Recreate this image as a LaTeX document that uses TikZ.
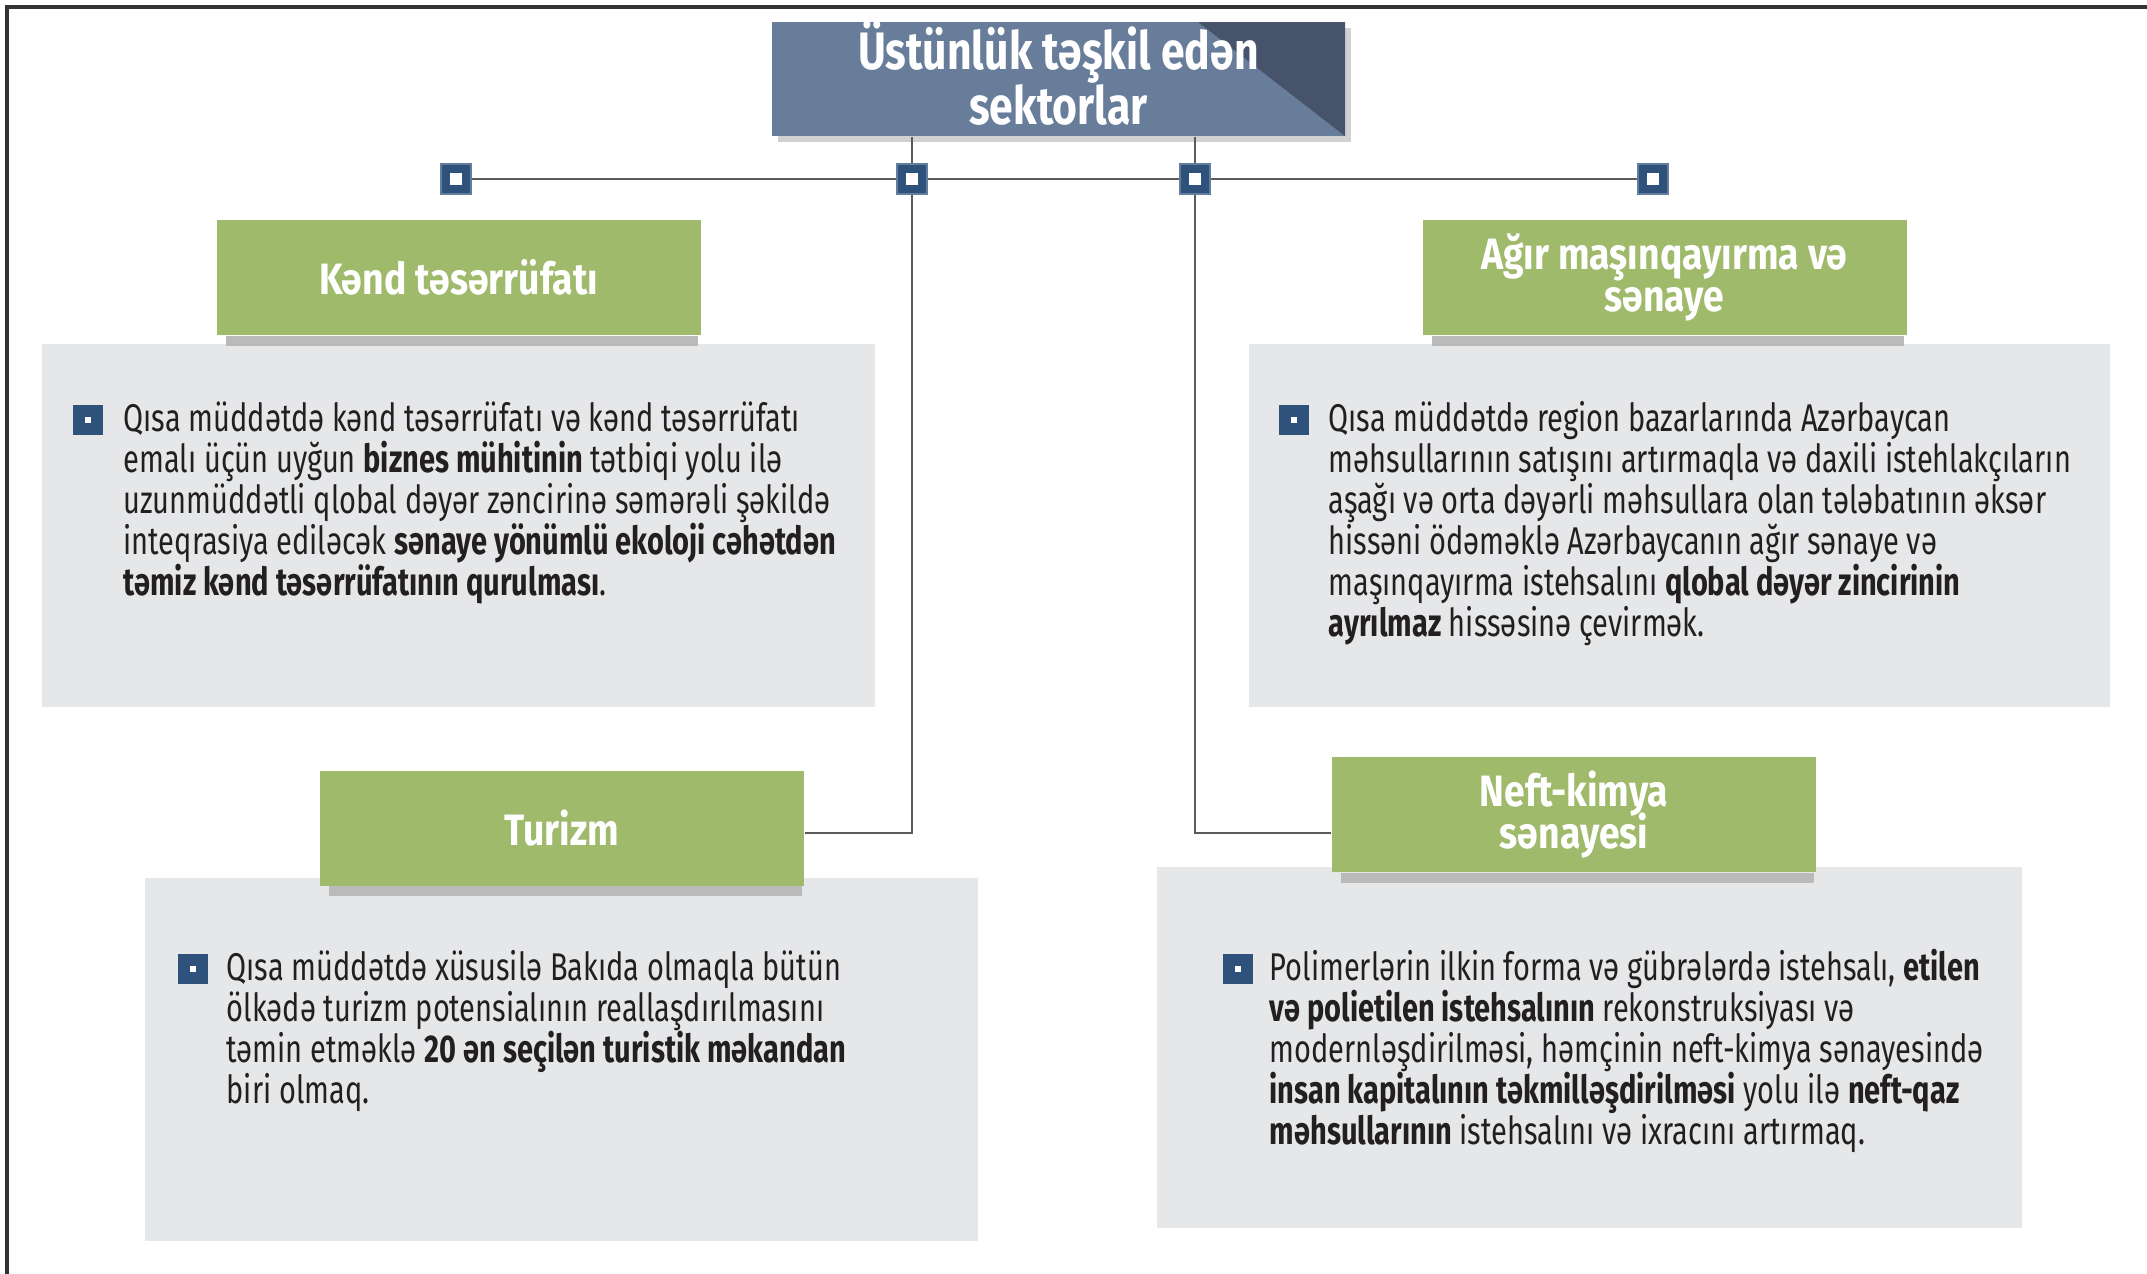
\documentclass[tikz,border=0pt]{standalone}
\usepackage{fontspec}
\setmainfont{Fira Sans}[FakeStretch=0.75]
\newfontfamily\titlefont{Fira Sans}[FakeStretch=0.81]
\newfontfamily\headfont{Fira Sans}[FakeStretch=0.85]
\usetikzlibrary{shadows}

\definecolor{titleblue}{HTML}{687D9A}
\definecolor{titledark}{HTML}{46536A}
\definecolor{leafgreen}{HTML}{A0BA6C}
\definecolor{panelgray}{HTML}{E6E7E8}
\definecolor{markblue}{HTML}{2F527C}
\definecolor{wiregray}{HTML}{5B5B5B}
\definecolor{inkdark}{HTML}{231F20}

\newcommand{\blocktext}[1]{\parbox[t]{90mm}{\raggedright #1}}
\newcommand{\headsetup}{\headfont\fontsize{12.5}{12}\selectfont\bfseries\lineskiplimit=-5pt\relax}

\begin{document}
\begin{tikzpicture}[x=0.1mm,y=-0.1mm]
	\tikzstyle{panel} = [fill=panelgray]
	\tikzstyle{head} = [rectangle,fill=leafgreen,text=white,align=center,inner sep=0,
		minimum width=48.4mm,minimum height=11.5mm,font=\headsetup]
	\tikzstyle{junc} = [rectangle,fill=markblue,draw=markblue!75!white,line width=0.3pt,
		minimum size=3mm,inner sep=0]
	\tikzstyle{dot} = [rectangle,fill=markblue,minimum size=3mm,inner sep=0]
	\tikzstyle{body} = [anchor=base west,inner sep=0,text=inkdark,
		font=\fontsize{11}{11.7}\selectfont]
	\tikzstyle{wire} = [draw=wiregray,line width=0.8pt]
	
	\useasboundingbox (0,0) rectangle (2147,1274);
	\draw[black!80,line width=0.9pt] (2147,7) -- (7,7) -- (7,1274);
	
	% grey panels
	\fill[panel] (42,344) rectangle (875,707);
	\fill[panel] (1249,344) rectangle (2110,707);
	\fill[panel] (145,878) rectangle (978,1241);
	\fill[panel] (1157,867) rectangle (2022,1228);
	
	% title
	\node[rectangle,fill=titleblue,inner sep=0,
		minimum width=57.3mm,minimum height=11.4mm,
		drop shadow={shadow xshift=0.6mm,shadow yshift=-0.6mm,fill=black,opacity=0.18},
		path picture={\fill[titledark] ([xshift=-14.7mm]path picture bounding box.north east)
			-- (path picture bounding box.north east) -- (path picture bounding box.south east) -- cycle;}] (title) at (1058.5,79) {};
	\node[text=white,align=center,inner sep=0,font=\titlefont\fontsize{15}{15.6}\selectfont\bfseries]
		(titletext) at ([yshift=0.6mm]title.center) {Üstünlük təşkil edən\\sektorlar};
	
	% sector heads
	\node[head] (kend) at (458.5,277.5) {Kənd təsərrüfatı};
	\node[head] (agir) at (1664.5,277.5) {Ağır maşınqayırma və\\sənaye};
	\node[head] (tur) at (562,828) {Turizm};
	\node[head] (neft) at (1574,814.5) {Neft-kimya\\sənayesi};
	\foreach \n in {kend,agir,tur,neft}
		\fill[black!27] ([xshift=1mm]\n.south west) rectangle ([xshift=-0.3mm,yshift=-1mm]\n.south east);
	
	% junctions
	\node[junc] (j1) at (456,179) {{\color{white}\rule{1.15mm}{1.15mm}}};
	\node[junc] (j2) at (912,179) {{\color{white}\rule{1.15mm}{1.15mm}}};
	\node[junc] (j3) at (1195,179) {{\color{white}\rule{1.15mm}{1.15mm}}};
	\node[junc] (j4) at (1653,179) {{\color{white}\rule{1.15mm}{1.15mm}}};
	\coordinate (tin) at ([yshift=-0.5mm]tur.east);
	
	\path[wire] (title.south -| j2) -- (j2);
	\path[wire] (title.south -| j3) -- (j3);
	\path[wire] (j1) -- (j2) -- (j3) -- (j4);
	\path[wire] (j2) |- (tin);
	\path[wire] (j3) |- (neft.west |- tin);
	
	% bullets and texts
	\node[dot] (b1) at (88,420) {{\color{white}\rule{0.55mm}{0.55mm}}};
	\node[dot] (b2) at (1294,420) {{\color{white}\rule{0.55mm}{0.55mm}}};
	\node[dot] (b3) at (193,969) {{\color{white}\rule{0.55mm}{0.55mm}}};
	\node[dot] (b4) at (1238,969) {{\color{white}\rule{0.55mm}{0.55mm}}};
	
	\node[body] (t1) at (123,431) {\blocktext{Qısa müddətdə kənd təsərrüfatı və kənd təsərrüfatı\\
		emalı üçün uyğun \textbf{biznes mühitinin} tətbiqi yolu ilə\\
		uzunmüddətli qlobal dəyər zəncirinə səmərəli şəkildə\\
		inteqrasiya ediləcək \textbf{sənaye yönümlü ekoloji cəhətdən}\\
		\textbf{təmiz kənd təsərrüfatının qurulması}.}};
	\node[body] (t2) at (1328,431) {\blocktext{Qısa müddətdə region bazarlarında Azərbaycan\\
		məhsullarının satışını artırmaqla və daxili istehlakçıların\\
		aşağı və orta dəyərli məhsullara olan tələbatının əksər\\
		hissəni ödəməklə Azərbaycanın ağır sənaye və\\
		maşınqayırma istehsalını \textbf{qlobal dəyər zincirinin}\\
		\textbf{ayrılmaz} hissəsinə çevirmək.}};
	\node[body] (t3) at (226,980) {\blocktext{Qısa müddətdə xüsusilə Bakıda olmaqla bütün\\
		ölkədə turizm potensialının reallaşdırılmasını\\
		təmin etməklə \textbf{20 ən seçilən turistik məkandan}\\
		biri olmaq.}};
	\node[body] (t4) at (1269,980) {\blocktext{Polimerlərin ilkin forma və gübrələrdə istehsalı, \textbf{etilen}\\
		\textbf{və polietilen istehsalının} rekonstruksiyası və\\
		modernləşdirilməsi, həmçinin neft-kimya sənayesində\\
		\textbf{insan kapitalının təkmilləşdirilməsi} yolu ilə \textbf{neft-qaz}\\
		\textbf{məhsullarının} istehsalını və ixracını artırmaq.}};
\end{tikzpicture}
\end{document}
